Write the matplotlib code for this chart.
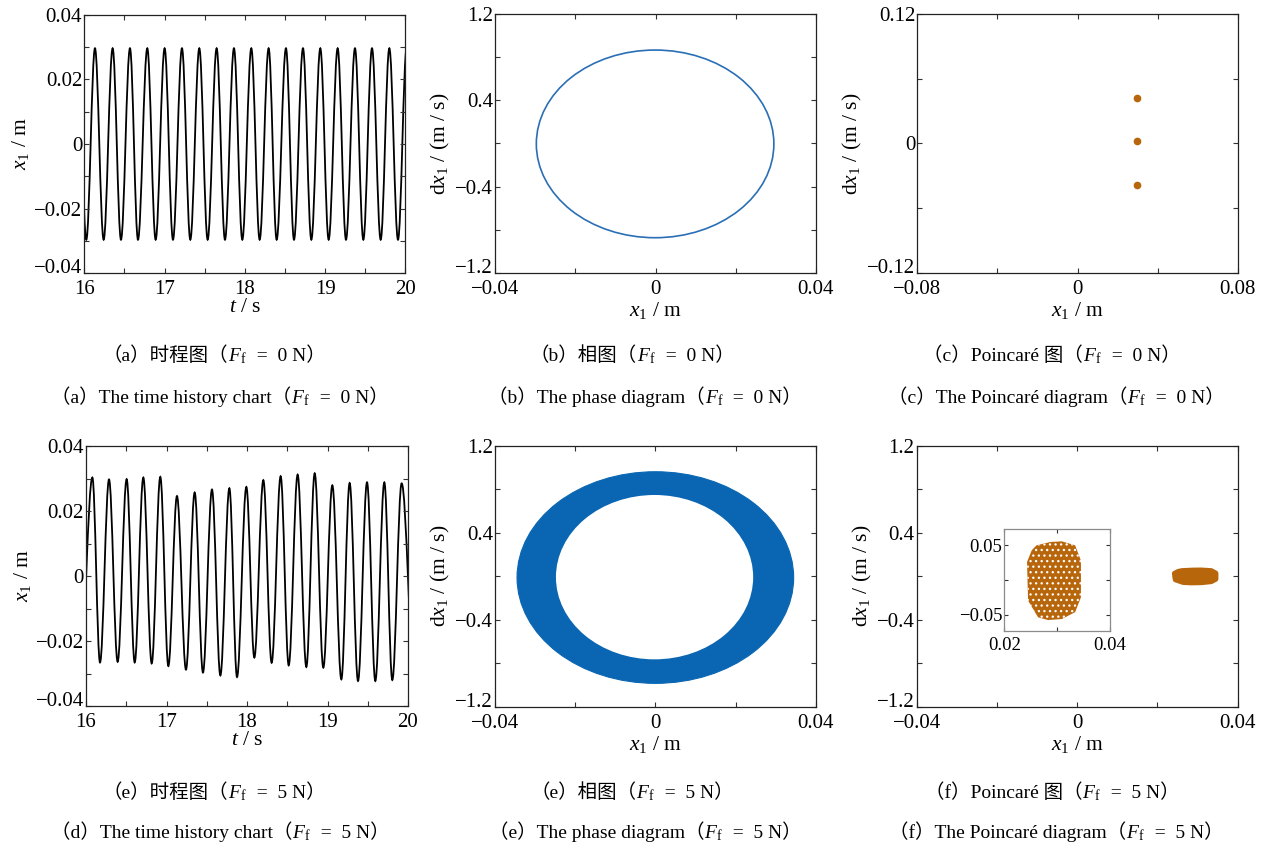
import matplotlib
matplotlib.use('Agg')
import matplotlib.pyplot as plt
from matplotlib.path import Path
from matplotlib.patches import PathPatch, Ellipse, Polygon
from matplotlib.offsetbox import TextArea, HPacker, AnchoredOffsetbox

plt.rcParams['font.family'] = ['Liberation Serif']
plt.rcParams['mathtext.fontset'] = 'custom'
plt.rcParams['mathtext.rm'] = 'Liberation Serif'
plt.rcParams['mathtext.it'] = 'Liberation Serif:italic'
plt.rcParams['hatch.linewidth'] = 0.9

# ---- data ----
# (a) time history, F_f = 0 N : extrema (time s, x1 m)
t_ext_a = [15.917, 16.025, 16.133, 16.241, 16.353, 16.457, 16.569, 16.669, 16.785,
           16.889, 17.001, 17.105, 17.217, 17.321, 17.433, 17.537, 17.649, 17.753,
           17.865, 17.969, 18.081, 18.185, 18.297, 18.397, 18.513, 18.613, 18.725,
           18.829, 18.941, 19.045, 19.157, 19.261, 19.373, 19.477, 19.585, 19.693,
           19.801, 19.909, 20.017]
x_ext_a = [0.0296, -0.0296, 0.0296, -0.0296, 0.0296, -0.0296, 0.0296, -0.0296, 0.0296,
           -0.0296, 0.0296, -0.0296, 0.0296, -0.0296, 0.0296, -0.0296, 0.0296, -0.0296,
           0.0296, -0.0296, 0.0296, -0.0296, 0.0296, -0.0296, 0.0296, -0.0296, 0.0296,
           -0.0296, 0.0296, -0.0296, 0.0296, -0.0296, 0.0296, -0.0296, 0.0296, -0.0296,
           0.0296, -0.0296, 0.0296]

# (d) time history, F_f = 5 N : extrema
t_ext_d = [15.930, 16.079, 16.174, 16.286, 16.393, 16.505, 16.605, 16.712, 16.816,
           16.923, 17.023, 17.130, 17.242, 17.350, 17.453, 17.565, 17.669, 17.781,
           17.876, 17.992, 18.091, 18.203, 18.306, 18.418, 18.518, 18.629, 18.737,
           18.841, 18.948, 19.060, 19.172, 19.275, 19.379, 19.491, 19.594, 19.706,
           19.805, 19.921, 20.080]
x_ext_d = [-0.0270, 0.0303, -0.0266, 0.0297, -0.0264, 0.0298, -0.0266, 0.0303, -0.0269,
           0.0305, -0.0277, 0.0246, -0.0288, 0.0257, -0.0297, 0.0266, -0.0306, 0.0270,
           -0.0311, 0.0274, -0.0251, 0.0295, -0.0267, 0.0307, -0.0275, 0.0312, -0.0280,
           0.0316, -0.0282, 0.0279, -0.0318, 0.0286, -0.0323, 0.0288, -0.0323, 0.0288,
           -0.0320, 0.0285, -0.0300]

# (b) phase orbit: centre (x, v), full width, full height
orbit_b = [-0.0001, -0.0035, 0.0592, 1.743]
# (e) phase band: outer and inner boundary
band_outer_e = [0.0, -0.011, 0.0690, 1.948]
band_inner_e = [-0.0002, -0.0075, 0.0492, 1.513]

# (c) Poincaré points
pc_x = [0.0296, 0.0296, 0.0296]
pc_v = [0.0425, 0.0026, -0.0390]

# (f) Poincaré cloud outline
cloud_x = [0.0261, 0.0287, 0.0309, 0.0334, 0.0345, 0.0345, 0.0334, 0.0309,
           0.0283, 0.0264, 0.0245, 0.0243, 0.0252]
cloud_v = [0.050, 0.0548, 0.0557, 0.050, 0.028, -0.0246, -0.046, -0.0558,
           -0.0573, -0.0534, -0.0294, 0.026, 0.043]

captions_cn = [('（a）时程图（', '0'), ('（b）相图（', '0'), ('（c）Poincaré 图（', '0'),
               ('（e）时程图（', '5'), ('（e）相图（', '5'), ('（f）Poincaré 图（', '5')]
captions_en = [('（a）The time history chart（', '0'), ('（b）The phase diagram（', '0'),
               ('（c）The Poincaré diagram（', '0'), ('（d）The time history chart（', '5'),
               ('（e）The phase diagram（', '5'), ('（f）The Poincaré diagram（', '5')]

BLUE = '#0a66b2'
LINE_BLUE = '#2a6fb5'
ORANGE = '#b8660b'
W, H = 1269, 847
M = '\u2212'
TICK_SIZE = 15
LAB_SIZE = 15.5

fig = plt.figure(figsize=(W / 100, H / 100), dpi=100)


def add_axes(l, t, r, b):
    return fig.add_axes([l / W, 1 - b / H, (r - l) / W, (b - t) / H])


def style(ax, xt, xl, yt, yl, size=TICK_SIZE, spine='#222222'):
    ax.set_xticks(xt)
    ax.set_xticklabels(xl)
    ax.set_yticks(yt)
    ax.set_yticklabels(yl)
    ax.set_xlim(xt[0], xt[-1])
    ax.set_ylim(yt[0], yt[-1])
    ax.tick_params(direction='in', top=True, right=True, length=3.5, width=0.8,
                   labelsize=size, colors='#333333', labelcolor='black')
    ax.tick_params(axis='x', pad=5)
    ax.tick_params(axis='y', pad=1.5)
    for s in ax.spines.values():
        s.set_linewidth(0.9)
        s.set_color(spine)


def lift_bottom_label(ax):
    # lowest y label sits on its tick, as in the original, clear of the x labels
    ax.get_yticklabels()[0].set_verticalalignment('baseline')


def wave(ax, t, x):
    # smooth curve through the extrema (horizontal tangent at each extremum)
    k = 0.364
    verts = [(t[0], x[0])]
    codes = [Path.MOVETO]
    for i in range(1, len(t)):
        dt = t[i] - t[i - 1]
        verts += [(t[i - 1] + k * dt, x[i - 1]), (t[i] - k * dt, x[i]), (t[i], x[i])]
        codes += [Path.CURVE4] * 3
    ax.add_patch(PathPatch(Path(verts, codes), fill=False, edgecolor='black', lw=1.3))


t_ticks = [16, 16.5, 17, 17.5, 18, 18.5, 19, 19.5, 20]
t_labels = ['16', '', '17', '', '18', '', '19', '', '20']
x_ticks = [-0.04, -0.03, -0.02, -0.01, 0, 0.01, 0.02, 0.03, 0.04]
x_labels = [M + '0.04', '', M + '0.02', '', '0', '', '0.02', '', '0.04']
ph_xt = [-0.04, -0.02, 0, 0.02, 0.04]
ph_xl = [M + '0.04', '', '0', '', '0.04']
ph_yt = [-1.2, -0.8, -0.4, 0, 0.4, 0.8, 1.2]
ph_yl = [M + '1.2', '', M + '0.4', '', '0.4', '', '1.2']

XLAB = r'$x_{1}$ / m'
VLAB = r'd$x_{1}$ / (m / s)'
TLAB = r'$t$ / s'


def labels(ax, xlab, ylab, xpad=1):
    ax.set_xlabel(xlab, fontsize=LAB_SIZE, labelpad=xpad)
    ax.set_ylabel(ylab, fontsize=LAB_SIZE, labelpad=2)
    lift_bottom_label(ax)


# row 1
ax = add_axes(84.3, 14.7, 405.3, 273.3)
wave(ax, t_ext_a, x_ext_a)
style(ax, t_ticks, t_labels, x_ticks, x_labels)
labels(ax, TLAB, XLAB, xpad=-1)

ax = add_axes(495, 14.3, 816, 272.7)
ax.add_patch(Ellipse(orbit_b[:2], orbit_b[2], orbit_b[3], fill=False,
                     edgecolor=LINE_BLUE, lw=1.2))
style(ax, ph_xt, ph_xl, ph_yt, ph_yl)
labels(ax, XLAB, VLAB)

ax = add_axes(917.3, 14.3, 1237.7, 272.7)
ax.plot(pc_x, pc_v, 'o', color=ORANGE, ms=4.5)
style(ax, [-0.08, -0.04, 0, 0.04, 0.08], [M + '0.08', '', '0', '', '0.08'],
      [-0.12, -0.06, 0, 0.06, 0.12], [M + '0.12', '', '0', '', '0.12'])
labels(ax, XLAB, VLAB)

# row 2
ax = add_axes(86, 446, 408, 706)
wave(ax, t_ext_d, x_ext_d)
style(ax, t_ticks, t_labels, x_ticks, x_labels)
labels(ax, TLAB, XLAB, xpad=-1)

ax = add_axes(495, 446, 815.7, 706.7)
ax.add_patch(Ellipse(band_outer_e[:2], band_outer_e[2], band_outer_e[3],
                     facecolor=BLUE, edgecolor=BLUE, lw=0.8))
ax.add_patch(Ellipse(band_inner_e[:2], band_inner_e[2], band_inner_e[3],
                     facecolor='white', edgecolor='none'))
style(ax, ph_xt, ph_xl, ph_yt, ph_yl)
labels(ax, XLAB, VLAB)

ax = add_axes(916.7, 446, 1237.7, 706.7)
cloud = list(zip(cloud_x, cloud_v))
ax.add_patch(Polygon(cloud, closed=True, facecolor=ORANGE, edgecolor=ORANGE,
                     lw=4, joinstyle='round'))
style(ax, ph_xt, ph_xl, ph_yt, ph_yl)
labels(ax, XLAB, VLAB)

axin = add_axes(1004.3, 529.3, 1110, 631)
axin.add_patch(Polygon(cloud, closed=True, facecolor=ORANGE, edgecolor='white',
                       lw=0, hatch='...'))
style(axin, [0.02, 0.03, 0.04], ['0.02', '', '0.04'],
      [-0.073, -0.05, 0, 0.05, 0.073], ['', M + '0.05', '', '0.05', ''],
      size=13.5, spine='#8a8a8a')
axin.set_ylim(-0.073, 0.073)
axin.tick_params(length=3)
axin.tick_params(axis='x', pad=4)
for tk in (axin.yaxis.get_major_ticks()[0], axin.yaxis.get_major_ticks()[-1]):
    tk.tick1line.set_visible(False)
    tk.tick2line.set_visible(False)

# captions
CAP_FONT = ['Liberation Serif', 'Noto Sans CJK SC']


def caption(cx, cy, head, val, size=14):
    props = dict(fontfamily=CAP_FONT, fontsize=size)
    box = HPacker(children=[TextArea(head, textprops=props),
                            TextArea(r'$F_{\mathrm{f}}$', textprops=props),
                            TextArea('  =  ' + val + ' N）', textprops=props)],
                  align='baseline', pad=0, sep=0)
    fig.add_artist(AnchoredOffsetbox(loc='center', child=box, pad=0, borderpad=0,
                                     frameon=False, bbox_to_anchor=(cx / W, 1 - cy / H),
                                     bbox_transform=fig.transFigure))


cn_x = [214, 632, 1052]
en_x = [220, 645, 1056]
for i in range(6):
    r, c = divmod(i, 3)
    cy_cn = [356, 793][r]
    cy_en = [397, 832][r]
    caption(cn_x[c], cy_cn, *captions_cn[i])
    caption(en_x[c], cy_en, *captions_en[i])

fig.savefig('out.png', dpi=100)
